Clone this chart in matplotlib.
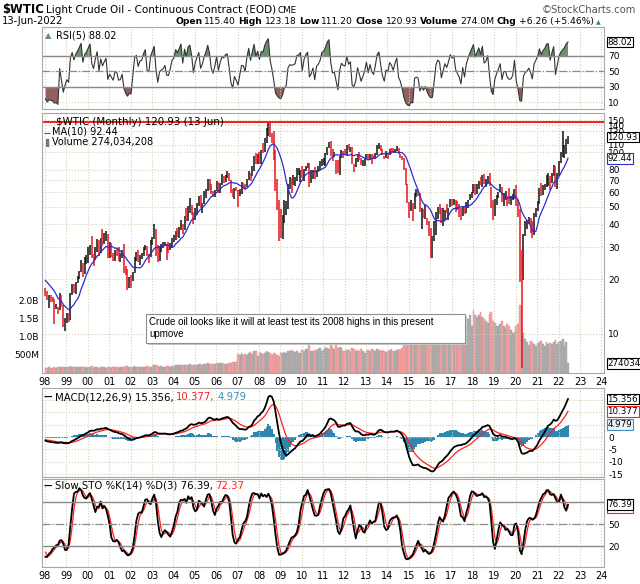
import numpy as np
import pandas as pd
import matplotlib
matplotlib.use("Agg")
import matplotlib.pyplot as plt
from matplotlib.patches import Rectangle
from matplotlib.ticker import NullLocator

plt.rcParams['font.family'] = ['DejaVu Sans']

# $WTIC monthly bars, Jan 1997 .. Jun 2022 (1997 is only there to warm up the indicators)
close = [
    24.15, 20.30, 20.41, 20.21, 20.88, 19.80, 20.14, 19.61, 21.18, 20.99, 19.15, 17.64,
    17.21, 15.44, 15.61, 15.39, 15.20, 14.18, 14.21, 13.39, 16.14, 14.42, 11.22, 12.05,
    12.75, 12.27, 16.76, 18.66, 17.60, 19.29, 20.53, 22.11, 24.51, 21.75, 24.59, 25.60,
    27.64, 30.43, 26.90, 25.74, 29.01, 32.50, 27.43, 33.12, 30.84, 32.70, 34.40, 26.80,
    28.66, 27.39, 26.29, 28.46, 28.37, 26.25, 26.35, 27.20, 23.43, 21.18, 19.44, 19.84,
    19.48, 21.74, 26.31, 27.29, 25.31, 26.86, 27.02, 28.98, 30.45, 27.22, 26.89, 31.20,
    33.51, 36.60, 31.04, 25.80, 29.56, 30.19, 30.54, 31.57, 29.20, 29.11, 30.41, 32.52,
    33.05, 36.16, 35.76, 37.38, 39.88, 37.05, 43.80, 42.12, 49.64, 51.76, 49.13, 43.45,
    48.20, 51.75, 55.40, 49.72, 51.97, 56.50, 60.57, 68.94, 66.24, 59.76, 57.32, 61.04,
    67.92, 61.41, 66.63, 71.88, 71.29, 73.93, 74.40, 70.26, 62.91, 58.73, 63.13, 61.05,
    58.14, 61.79, 65.87, 65.71, 64.01, 70.68, 78.21, 74.04, 81.66, 94.53, 88.71, 95.98,
    91.75, 101.84, 101.58, 113.46, 127.35, 140.00, 124.08, 115.46, 100.64, 67.81, 54.43, 44.60,
    41.68, 44.76, 49.66, 51.12, 66.31, 69.89, 69.45, 69.96, 70.61, 77.00, 77.28, 79.36,
    72.89, 79.66, 83.76, 86.15, 73.97, 75.63, 78.95, 71.92, 79.97, 81.43, 84.11, 91.38,
    92.19, 96.97, 106.72, 113.93, 102.70, 95.42, 95.70, 88.81, 79.20, 93.19, 100.36, 98.83,
    98.48, 107.07, 103.02, 104.87, 86.53, 84.96, 88.06, 96.47, 92.19, 86.24, 88.91, 91.82,
    97.49, 92.05, 97.23, 93.46, 91.97, 96.56, 105.03, 107.65, 102.33, 96.38, 92.72, 98.42,
    97.49, 102.59, 101.58, 99.74, 102.71, 105.37, 98.17, 95.96, 91.16, 80.54, 66.15, 53.27,
    48.24, 49.76, 47.60, 59.63, 60.30, 59.47, 47.12, 49.20, 45.09, 46.59, 41.65, 37.04,
    33.62, 33.75, 38.34, 45.92, 49.10, 48.33, 41.60, 44.70, 48.24, 46.86, 49.44, 53.72,
    52.81, 54.01, 50.60, 49.33, 48.32, 46.04, 50.17, 47.23, 51.67, 54.38, 57.40, 60.42,
    64.73, 61.64, 64.94, 68.57, 67.04, 74.15, 68.76, 69.80, 73.25, 65.31, 50.93, 45.41,
    53.79, 57.22, 60.14, 63.91, 53.50, 58.47, 58.58, 55.10, 54.07, 54.18, 55.17, 61.06,
    51.56, 44.76, 20.48, 18.84, 35.49, 39.27, 40.27, 42.61, 40.22, 35.79, 45.34, 48.52,
    52.20, 61.50, 59.16, 63.58, 66.32, 73.47, 73.95, 68.50, 75.03, 83.57, 66.18, 75.21,
    88.15, 95.72, 100.28, 104.69, 114.67, 120.93,
]
high = [
    26.6, 24.1, 21.2, 20.6, 21.3, 21.0, 20.5, 20.4, 21.6, 23.0, 21.3, 19.3,
    17.8, 17.3, 16.4, 16.4, 15.9, 15.5, 14.7, 14.0, 16.7, 16.4, 14.5, 12.3,
    13.0, 13.0, 16.9, 18.9, 18.8, 19.3, 20.8, 22.2, 25.6, 24.4, 26.4, 27.1,
    30.0, 30.9, 34.4, 27.4, 30.0, 33.1, 32.7, 33.5, 37.8, 36.0, 37.0, 35.3,
    32.2, 31.6, 28.0, 29.0, 29.6, 29.9, 27.7, 28.8, 31.1, 23.6, 22.8, 20.5,
    21.2, 22.0, 26.5, 28.4, 29.1, 27.0, 28.0, 29.9, 31.0, 30.6, 27.6, 32.7,
    34.3, 39.99, 37.8, 31.0, 30.5, 31.2, 32.2, 32.1, 31.2, 31.9, 31.5, 33.7,
    35.2, 36.8, 38.4, 38.5, 42.3, 40.2, 44.3, 49.4, 50.5, 55.7, 51.2, 46.6,
    49.0, 52.2, 57.6, 58.3, 52.2, 60.9, 62.3, 70.9, 70.8, 66.7, 61.3, 61.7,
    69.2, 68.5, 67.4, 75.4, 74.0, 74.4, 78.4, 77.2, 70.5, 62.6, 63.8, 64.3,
    61.5, 62.3, 68.1, 67.9, 66.9, 70.7, 78.8, 76.3, 83.9, 94.7, 99.3, 97.0,
    100.1, 102.6, 111.8, 119.9, 135.1, 143.7, 147.3, 126.6, 130.0, 102.4, 71.0, 54.7,
    48.6, 45.0, 54.7, 54.0, 66.7, 73.4, 72.0, 75.0, 72.9, 82.0, 82.0, 80.0,
    83.9, 80.5, 83.9, 87.2, 86.8, 79.4, 80.0, 82.4, 80.0, 84.2, 89.0, 91.9,
    92.6, 99.3, 106.9, 113.9, 114.8, 103.4, 100.6, 90.5, 90.5, 94.7, 102.4, 101.8,
    103.7, 109.8, 110.6, 106.2, 106.7, 86.5, 92.9, 97.4, 100.4, 92.7, 90.2, 91.8,
    98.2, 97.8, 97.8, 97.8, 96.1, 99.0, 108.9, 112.2, 109.3, 104.5, 95.6, 100.8,
    98.2, 103.8, 105.2, 104.9, 104.5, 107.7, 105.8, 97.9, 95.4, 92.2, 82.2, 67.0,
    53.4, 54.2, 52.5, 59.9, 62.6, 61.9, 59.5, 49.3, 48.4, 50.9, 43.5, 42.0,
    38.4, 34.7, 41.9, 46.8, 50.2, 51.7, 49.0, 49.0, 48.3, 51.9, 49.5, 55.2,
    55.2, 54.9, 54.3, 53.8, 52.0, 49.0, 50.4, 50.2, 52.9, 54.8, 59.1, 60.5,
    66.7, 66.7, 66.6, 69.6, 72.9, 74.5, 75.3, 71.4, 73.8, 76.9, 63.9, 54.6,
    55.0, 57.8, 60.7, 66.6, 63.9, 59.9, 60.9, 57.5, 63.4, 57.3, 58.7, 62.3,
    65.7, 54.7, 48.7, 29.1, 35.6, 41.6, 42.5, 43.8, 43.4, 41.9, 46.3, 49.3,
    53.9, 63.8, 67.98, 65.5, 67.0, 74.5, 76.98, 74.0, 76.7, 85.4, 84.2, 77.0,
    88.8, 100.0, 130.5, 108.7, 118.0, 123.18,
]
low = [
    23.6, 20.0, 19.6, 19.0, 19.8, 19.1, 19.2, 19.4, 19.3, 20.5, 19.0, 17.3,
    16.1, 15.3, 13.9, 14.9, 14.9, 11.4, 13.7, 12.8, 13.6, 14.0, 10.9, 10.4,
    11.5, 11.6, 12.0, 16.3, 16.9, 16.5, 19.1, 20.0, 21.9, 20.6, 21.4, 24.2,
    24.6, 27.2, 26.2, 23.7, 25.6, 28.1, 26.7, 27.7, 30.4, 31.4, 32.6, 26.3,
    26.0, 26.5, 25.1, 25.3, 26.9, 25.3, 24.8, 26.3, 21.6, 21.0, 17.5, 17.8,
    17.9, 19.6, 21.6, 25.1, 24.8, 24.0, 25.8, 26.7, 28.8, 26.9, 24.5, 26.4,
    30.8, 33.4, 26.8, 25.0, 25.1, 28.4, 29.7, 30.5, 25.4, 28.0, 28.9, 29.8,
    32.2, 32.8, 34.3, 33.8, 37.2, 35.6, 37.2, 41.8, 41.6, 46.2, 45.1, 40.3,
    42.1, 45.0, 50.6, 49.3, 46.2, 51.7, 55.9, 61.0, 62.0, 59.0, 56.3, 56.9,
    60.8, 59.5, 59.9, 66.0, 67.7, 68.1, 72.1, 69.3, 59.5, 56.6, 55.3, 60.8,
    49.9, 57.0, 58.9, 62.7, 61.5, 64.2, 69.9, 69.0, 73.9, 79.1, 86.0, 85.6,
    86.1, 86.1, 98.7, 100.5, 112.1, 122.1, 121.4, 112.2, 90.5, 61.3, 48.3, 32.4,
    33.6, 33.2, 40.7, 45.1, 48.6, 63.0, 59.5, 66.1, 65.1, 69.0, 75.0, 68.6,
    72.4, 69.5, 78.3, 82.1, 64.2, 67.2, 71.1, 70.8, 72.6, 79.1, 80.1, 83.8,
    85.1, 83.9, 96.6, 105.3, 94.6, 89.6, 93.7, 75.7, 77.1, 74.9, 92.4, 92.5,
    97.4, 96.8, 102.3, 100.7, 86.0, 77.3, 83.3, 88.2, 90.0, 84.4, 84.1, 84.1,
    91.8, 91.8, 90.3, 85.6, 91.7, 92.0, 95.9, 103.4, 101.7, 96.0, 91.8, 92.7,
    91.2, 96.7, 97.4, 98.8, 99.1, 101.9, 97.8, 92.5, 90.4, 79.4, 65.7, 52.8,
    43.6, 47.4, 42.0, 48.8, 56.5, 57.3, 46.7, 37.8, 43.2, 42.6, 39.9, 34.5,
    26.2, 26.1, 32.3, 35.2, 43.0, 45.8, 40.6, 39.2, 42.5, 46.1, 42.2, 49.9,
    50.7, 51.2, 47.1, 48.2, 43.8, 42.1, 44.4, 45.6, 46.4, 49.1, 54.6, 56.1,
    59.9, 58.1, 59.1, 62.8, 65.8, 64.2, 67.0, 64.4, 67.2, 64.9, 49.4, 42.4,
    44.4, 51.2, 55.6, 60.0, 53.0, 50.6, 54.6, 50.5, 52.1, 50.9, 54.8, 55.4,
    50.6, 44.0, 19.3, 6.5, 19.9, 34.4, 37.6, 40.1, 36.1, 33.6, 34.9, 44.2,
    47.2, 51.5, 57.3, 58.4, 61.6, 64.4, 65.0, 61.7, 67.7, 74.2, 64.4, 62.4,
    74.3, 86.6, 93.5, 92.9, 98.2, 111.2,
]
# monthly volume in billions of contracts, Jan 1998 .. Jun 2022
volume = [
    0.14, 0.15, 0.16, 0.15, 0.14, 0.17, 0.15, 0.16, 0.18, 0.17, 0.16, 0.18,
    0.16, 0.17, 0.19, 0.18, 0.16, 0.17, 0.16, 0.17, 0.18, 0.17, 0.17, 0.15,
    0.16, 0.17, 0.19, 0.15, 0.16, 0.16, 0.15, 0.16, 0.18, 0.16, 0.15, 0.16,
    0.17, 0.15, 0.16, 0.17, 0.16, 0.15, 0.16, 0.16, 0.18, 0.20, 0.19, 0.17,
    0.18, 0.17, 0.19, 0.18, 0.17, 0.16, 0.17, 0.17, 0.18, 0.19, 0.18, 0.18,
    0.20, 0.21, 0.22, 0.19, 0.18, 0.19, 0.18, 0.18, 0.19, 0.20, 0.18, 0.19,
    0.20, 0.21, 0.22, 0.21, 0.22, 0.21, 0.21, 0.23, 0.22, 0.24, 0.23, 0.22,
    0.23, 0.22, 0.25, 0.24, 0.23, 0.25, 0.24, 0.27, 0.26, 0.25, 0.24, 0.24,
    0.27, 0.25, 0.28, 0.27, 0.26, 0.26, 0.25, 0.27, 0.29, 0.30, 0.31, 0.30,
    0.52, 0.50, 0.55, 0.50, 0.52, 0.50, 0.56, 0.58, 0.53, 0.60, 0.62, 0.48,
    0.58, 0.55, 0.52, 0.55, 0.60, 0.58, 0.56, 0.50, 0.55, 0.52, 0.50, 0.48,
    0.55, 0.56, 0.58, 0.55, 0.60, 0.62, 0.64, 0.60, 0.58, 0.62, 0.55, 0.56,
    0.65, 0.60, 0.66, 0.68, 0.78, 0.62, 0.60, 0.64, 0.62, 0.66, 0.70, 0.60,
    0.68, 0.72, 0.70, 0.66, 0.78, 0.72, 0.66, 0.80, 0.70, 0.72, 0.70, 0.60,
    0.62, 0.65, 0.64, 0.58, 0.70, 0.68, 0.62, 0.64, 0.62, 0.66, 0.60, 0.55,
    0.62, 0.64, 0.60, 0.66, 0.64, 0.62, 0.68, 0.64, 0.62, 0.64, 0.60, 0.58,
    0.62, 0.64, 0.66, 0.62, 0.60, 0.64, 0.66, 0.64, 0.70, 0.85, 0.80, 0.92,
    1.10, 1.15, 1.25, 1.10, 1.05, 1.00, 1.20, 1.30, 1.15, 1.20, 1.15, 1.20,
    1.30, 1.40, 1.30, 1.20, 1.25, 1.30, 1.25, 1.30, 1.35, 1.30, 1.45, 1.25,
    1.30, 1.25, 1.45, 1.30, 1.50, 1.45, 1.35, 1.55, 1.40, 1.50, 1.60, 1.30,
    1.75, 1.60, 1.55, 1.60, 1.70, 1.55, 1.50, 1.45, 1.40, 1.65, 1.70, 1.45,
    1.40, 1.30, 1.30, 1.35, 1.45, 1.30, 1.25, 1.35, 1.30, 1.20, 1.10, 1.15,
    1.30, 1.35, 1.90, 1.85, 1.10, 0.95, 0.85, 0.78, 0.90, 0.85, 0.80, 0.75,
    0.82, 0.85, 0.90, 0.80, 0.75, 0.85, 0.80, 0.82, 0.80, 0.85, 0.92, 0.80,
    0.85, 0.90, 0.95, 0.75, 0.85, 0.274,
]
resistance = 146.5     # hand drawn line at the 2008 high
years = np.arange(1998, 2025)

# indicators, computed the usual way from the monthly closes
c = pd.Series(close)
hi = pd.Series(high)
lo = pd.Series(low)
ma10 = c.rolling(10, min_periods=1).mean()
d = c.diff()
gain = d.clip(lower=0).ewm(alpha=1 / 5, adjust=False).mean()
loss = (-d.clip(upper=0)).ewm(alpha=1 / 5, adjust=False).mean()
rsi = 100 - 100 / (1 + gain / loss)
macd = c.ewm(span=12, adjust=False).mean() - c.ewm(span=26, adjust=False).mean()
signal = macd.ewm(span=9, adjust=False).mean()
hist = macd - signal
hh = hi.rolling(14, min_periods=1).max()
ll = lo.rolling(14, min_periods=1).min()
fastk = 100 * (c - ll) / (hh - ll)
slowk = fastk.rolling(3, min_periods=1).mean()
slowd = slowk.rolling(3, min_periods=1).mean()

n = len(close)
t_all = 1997 + np.arange(n) / 12 + 0.02
s = 12                      # first plotted month: Jan 1998
t = t_all[s:]
up = (c.diff() >= 0).values[s:]

W, H = 640, 584
fig = plt.figure(figsize=(6.4, 5.84), dpi=100)
X0, X1 = 1997.86, 2024.12
GRID = '#d2d2b4'


def rect(top, bottom, left=42, right=604):
    return [left / W, 1 - bottom / H, (right - left) / W, (bottom - top) / H]


def style(ax, labels=False):
    ax.set_xlim(X0, X1)
    ax.set_xticks(years)
    ax.set_xticklabels([f"{y % 100:02d}" for y in years] if labels else [])
    ax.tick_params(axis='x', length=0, labelsize=7, pad=3)
    ax.yaxis.tick_right()
    ax.tick_params(axis='y', length=0, labelsize=6.5, pad=3)
    ax.grid(True, color=GRID, linestyle=':', linewidth=0.8)
    for sp in ax.spines.values():
        sp.set_color('#a8a8a8')
        sp.set_linewidth(0.8)


def tag(ax, y, text, edge, fc='white', color='black'):
    ax.annotate(text, xy=(1, y), xycoords=('axes fraction', 'data'), xytext=(2.5, 0),
                textcoords='offset points', va='center', ha='left', fontsize=6.3, color=color,
                bbox=dict(boxstyle='square,pad=0.1', fc=fc, ec=edge, lw=0.8),
                annotation_clip=False, zorder=10)


def run_text(x, y, pieces, gap=2.5, **common):
    r = fig.canvas.get_renderer()
    for txt, kw in pieces:
        tt = fig.text(x / W, 1 - y / H, txt, va='baseline', **{**common, **kw})
        x = tt.get_window_extent(r).x1 + gap


# ---- RSI panel
ax_r = fig.add_axes(rect(27, 109))
style(ax_r)
r_rsi = rsi.values[s:]
ax_r.plot(t, r_rsi, color='#333333', lw=0.8)
ax_r.fill_between(t, r_rsi, 70, where=r_rsi > 70, interpolate=True, color='#67926a', lw=0)
ax_r.fill_between(t, r_rsi, 30, where=r_rsi < 30, interpolate=True, color='#925e5e', lw=0)
ax_r.axhline(70, color='#8a8a8a', lw=1)
ax_r.axhline(30, color='#8a8a8a', lw=1)
ax_r.axhline(50, color='#8a8a8a', lw=0.9, ls='-.')
ax_r.set_ylim(1.6, 107.4)
ax_r.set_yticks([10, 30, 50, 70])
tag(ax_r, 88.02, '88.02', 'black')

# ---- price panel with volume behind it
ax_v = fig.add_axes(rect(113, 373))
ax_v.set_xlim(X0, X1)
ax_v.bar(t, volume, width=1 / 12, color=np.where(up, '#b0b0b0', '#f3a9a9'),
         edgecolor=np.where(up, '#a0a0a0', '#e88080'), linewidth=0.3)
ax_v.set_ylim(0, 7.22)
ax_v.set_yticks([0.5, 1.0, 1.5, 2.0])
ax_v.set_yticklabels(['500M', '1.0B', '1.5B', '2.0B'])
ax_v.tick_params(axis='y', length=0, labelsize=6.5, pad=2)
ax_v.set_xticks(years)
ax_v.set_xticklabels([])
ax_v.tick_params(axis='x', length=0)
ax_v.grid(True, axis='x', color=GRID, linestyle=':', linewidth=0.8)
for sp in ax_v.spines.values():
    sp.set_visible(False)
ax_v.annotate('274034208', xy=(1, volume[-1]), xycoords=('axes fraction', 'data'),
              xytext=(2.5, 0), textcoords='offset points', va='center', ha='left', fontsize=6.3,
              bbox=dict(boxstyle='square,pad=0.1', fc='white', ec='black', lw=0.8),
              annotation_clip=False)

ax_p = fig.add_axes(rect(113, 373))
ax_p.patch.set_alpha(0)
ax_p.set_yscale('log')
style(ax_p, labels=True)
ax_p.grid(False, axis='x')
ax_p.set_ylim(6.1, 164)
pticks = [10, 20, 30, 40, 50, 60, 70, 80, 100, 110, 130, 140, 150]
ax_p.set_yticks(pticks)
ax_p.set_yticklabels([str(v) for v in pticks])
ax_p.yaxis.set_minor_locator(NullLocator())
lo_plot = np.clip(np.array(low[s:]), 6.1, None)
hi_plot = np.array(high[s:])
ax_p.vlines(t[up], lo_plot[up], hi_plot[up], color='#111111', lw=1.1)
ax_p.vlines(t[~up], lo_plot[~up], hi_plot[~up], color='#e8141e', lw=1.1)
ax_p.plot(t, ma10.values[s:], color='#2b2bd0', lw=0.9)
ax_p.axhline(resistance, color='#ff1a1a', lw=1.4)
tag(ax_p, 120.93, '120.93', 'black')
tag(ax_p, 92.44, '92.44', '#2b2bd0')

# ---- MACD panel
ax_m = fig.add_axes(rect(388, 477))
style(ax_m)
ax_m.bar(t, hist.values[s:], width=1 / 12, color='#2f86b0', lw=0)
ax_m.plot(t, signal.values[s:], color='#ff2020', lw=0.9)
ax_m.plot(t, macd.values[s:], color='black', lw=1.3)
ax_m.set_ylim(-16.1, 19.8)
ax_m.set_yticks([-15, -10, -5, 0, 5, 10, 15])
ax_m.set_yticklabels(['-15', '-10', '-5', '0', '', '', ''])
tag(ax_m, 15.356, '15.356', 'black')
tag(ax_m, 10.377, '10.377', '#ff2020')
tag(ax_m, 4.979, '4.979', '#3a8fc0', fc='#eef6fb')

# ---- slow stochastic panel
ax_s = fig.add_axes(rect(479, 567))
style(ax_s, labels=True)
ax_s.plot(t, slowd.values[s:], color='#ff2020', lw=0.9)
ax_s.plot(t, slowk.values[s:], color='black', lw=1.3)
ax_s.axhline(80, color='#8a8a8a', lw=1)
ax_s.axhline(20, color='#8a8a8a', lw=1)
ax_s.axhline(50, color='#8a8a8a', lw=0.9, ls='-.')
ax_s.set_ylim(-8.6, 111.4)
ax_s.set_yticks([20, 50, 80])
ax_s.set_yticklabels(['20', '50', ''])
tag(ax_s, 72.37, '72.37', '#ff2020')
tag(ax_s, 76.39, '76.39', 'black')

# ---- header
run_text(2, 13, [('$WTIC', dict(fontsize=8.4, fontweight='bold')),
                 ('Light Crude Oil - Continuous Contract (EOD)', dict(fontsize=7.5)),
                 ('CME', dict(fontsize=6.3))], gap=2)
fig.text(636 / W, 1 - 13 / H, '\u00a9StockCharts.com', fontsize=7.2, color='#555555',
         ha='right', va='baseline')
fig.text(2 / W, 1 - 24 / H, '13-Jun-2022', fontsize=7.2, va='baseline')
b = dict(fontsize=6.6, fontweight='bold')
nb = dict(fontsize=6.6)
run_text(175, 24, [('Open', b), ('115.40', nb), ('High', b), ('123.18', nb), ('Low', b),
                   ('111.20', nb), ('Close', b), ('120.93', nb), ('Volume', b),
                   ('274.0M', nb), ('Chg', b), ('+6.26 (+5.46%)', nb),
                   ('\u25b2', dict(fontsize=4.5, color='#2e8b57'))], gap=2.3)

# ---- in-panel legends
fig.text(45 / W, 1 - 38 / H, '\u25b2', fontsize=6, color='#67926a', va='baseline')
run_text(56, 38, [('RSI(5) 88.02', dict(fontsize=7))])
run_text(56, 125, [('$WTIC (Monthly) 120.93 (13 Jun)', dict(fontsize=7.4))])
run_text(44, 135, [('\u2014', dict(fontsize=5, color='#2b2bd0', fontweight='bold')),
                   ('MA(10) 92.44', dict(fontsize=7))], gap=1)
run_text(45, 145, [('\u258c', dict(fontsize=6, color='#777777')),
                   ('Volume 274,034,208', dict(fontsize=7))], gap=1)
run_text(44, 400, [('\u2014', dict(fontsize=6, fontweight='bold')),
                   ('MACD(12,26,9) 15.356,', dict(fontsize=7.3)),
                   ('10.377,', dict(fontsize=7.3, color='#ff2020')),
                   ('4.979', dict(fontsize=7.3, color='#3a8fc0'))])
run_text(44, 489, [('\u2014', dict(fontsize=6, fontweight='bold')),
                   ('Slow STO %K(14) %D(3) 76.39,', dict(fontsize=7.3)),
                   ('72.37', dict(fontsize=7.3, color='#ff2020'))])

# ---- annotation box
fig.patches.append(Rectangle((148 / W, 1 - 345 / H), 319 / W, 29 / H, transform=fig.transFigure,
                             fc='#c8c8c8', ec='none', zorder=20))
fig.patches.append(Rectangle((146 / W, 1 - 343 / H), 319 / W, 29 / H, transform=fig.transFigure,
                             fc='white', ec='#909090', lw=0.8, zorder=21))
fig.text(149 / W, 1 - 317 / H,
         'Crude oil looks like it will at least test its 2008 highs in this present\nupmove',
         fontsize=7, family='Liberation Sans', va='top', linespacing=1.25, zorder=22)

fig.savefig('out.png', dpi=100)
